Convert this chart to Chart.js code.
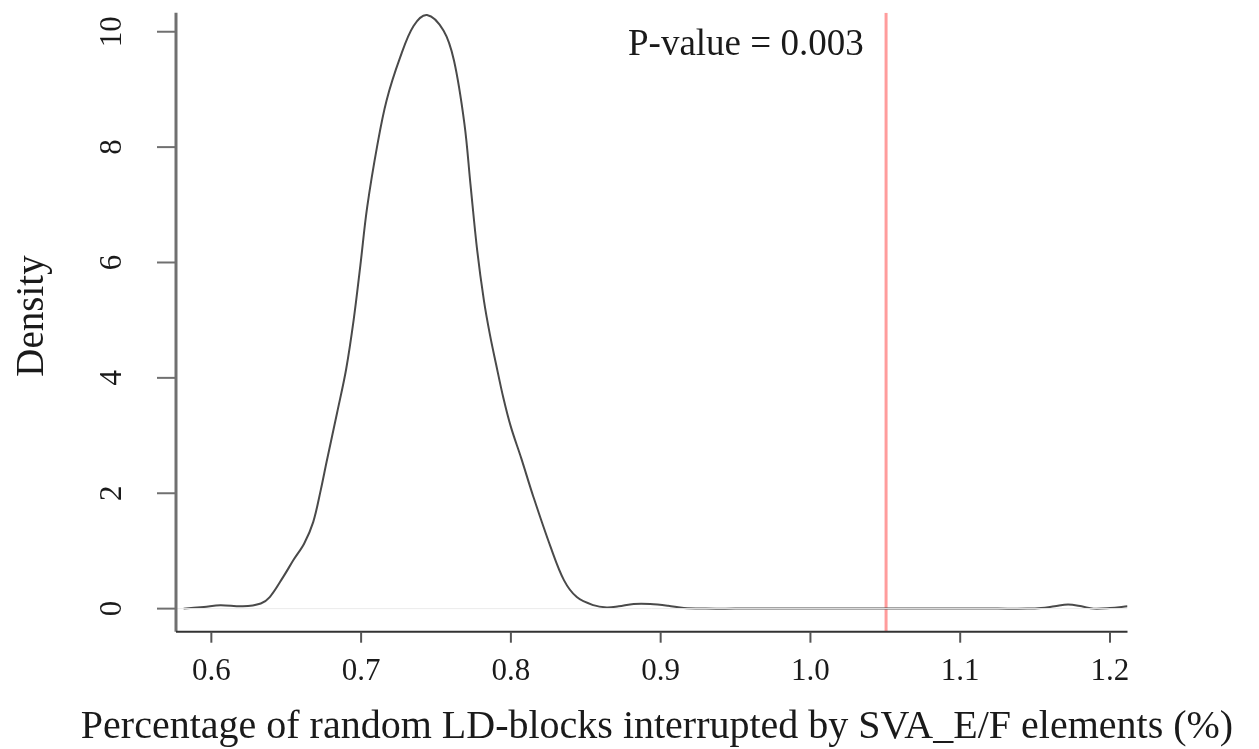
<!DOCTYPE html>
<html>
<head>
<meta charset="utf-8">
<script src="https://cdn.jsdelivr.net/npm/chart.js@4/dist/chart.umd.min.js"></script>
<style>
  body { margin: 0; background: #fff; }
  #wrap { width: 1259px; height: 749px; }
</style>
</head>
<body>
<div id="wrap"><canvas id="myChart"></canvas></div>
<script>
// density curve
const xValues = [0.5815, 0.595, 0.606, 0.621, 0.633, 0.639, 0.648, 0.655, 0.662, 0.668,
  0.673, 0.677, 0.684, 0.690, 0.695, 0.6995, 0.704, 0.711, 0.717, 0.726,
  0.735, 0.744, 0.755, 0.762, 0.769, 0.773, 0.7775, 0.782, 0.786, 0.790,
  0.795, 0.800, 0.807, 0.815, 0.8265, 0.8355, 0.844, 0.855, 0.864, 0.872,
  0.882, 0.893, 0.905, 0.9155, 0.93, 0.95, 0.98, 1.01, 1.04, 1.07,
  1.10, 1.125, 1.145, 1.154, 1.163, 1.172, 1.181, 1.189, 1.200, 1.2117];
const density = [0.00, 0.03, 0.06, 0.04, 0.09, 0.20, 0.55, 0.85, 1.13, 1.50,
  2.05, 2.55, 3.40, 4.15, 5.00, 5.95, 6.95, 8.06, 8.81, 9.55,
  10.10, 10.29, 10.02, 9.50, 8.40, 7.36, 6.21, 5.34, 4.75, 4.25,
  3.65, 3.15, 2.60, 1.94, 1.07, 0.49, 0.20, 0.06, 0.02, 0.04,
  0.08, 0.08, 0.05, 0.01, 0.00, 0.00, 0.00, 0.00, 0.00, 0.00,
  0.00, 0.00, 0.00, 0.01, 0.04, 0.07, 0.04, 0.00, 0.01, 0.04];

const xTicks = [0.6, 0.7, 0.8, 0.9, 1.0, 1.1, 1.2];
const yTicks = [0, 2, 4, 6, 8, 10];
const observedValue = 1.0505;
const pValueLabel = 'P-value = 0.003';
const xTitle = 'Percentage of random LD-blocks interrupted by SVA_E/F elements (%)';
const yTitle = 'Density';

const xMin = 0.5764, xMax = 1.2117;
const yMin = -0.40, yMax = 10.33;
const serif = '"Liberation Serif", "DejaVu Serif", serif';

const axesPlugin = {
  id: 'rAxes',
  afterDraw(chart) {
    const ctx = chart.ctx;
    const xs = chart.scales.x, ys = chart.scales.y;
    const area = chart.chartArea;
    ctx.save();

    // y axis line + ticks
    ctx.strokeStyle = '#707070';
    ctx.lineWidth = 3;
    ctx.beginPath();
    ctx.moveTo(area.left, area.top);
    ctx.lineTo(area.left, area.bottom);
    ctx.stroke();
    ctx.lineWidth = 2;
    yTicks.forEach(v => {
      const py = ys.getPixelForValue(v);
      ctx.beginPath();
      ctx.moveTo(area.left - 19, py);
      ctx.lineTo(area.left, py);
      ctx.stroke();
    });

    // x axis line + ticks
    ctx.strokeStyle = '#333';
    ctx.lineWidth = 2;
    ctx.beginPath();
    ctx.moveTo(area.left, area.bottom);
    ctx.lineTo(area.right, area.bottom);
    ctx.stroke();
    ctx.strokeStyle = '#555';
    xTicks.forEach(v => {
      const px = xs.getPixelForValue(v);
      ctx.beginPath();
      ctx.moveTo(px, area.bottom);
      ctx.lineTo(px, area.bottom + 11);
      ctx.stroke();
    });

    ctx.fillStyle = '#1a1a1a';
    ctx.font = '31px ' + serif;
    ctx.textAlign = 'center';
    ctx.textBaseline = 'middle';
    xTicks.forEach(v => {
      ctx.fillText(v.toFixed(1), xs.getPixelForValue(v), 672);
    });
    yTicks.forEach(v => {
      ctx.save();
      ctx.translate(113, ys.getPixelForValue(v));
      ctx.rotate(-Math.PI / 2);
      ctx.fillText(String(v), 0, 0);
      ctx.restore();
    });

    // titles
    ctx.font = '40px ' + serif;
    ctx.textBaseline = 'alphabetic';
    ctx.fillText(xTitle, 657, 738);
    ctx.save();
    ctx.translate(43, 316);
    ctx.rotate(-Math.PI / 2);
    ctx.font = '39px ' + serif;
    ctx.fillText(yTitle, 0, 0);
    ctx.restore();

    ctx.font = '37px ' + serif;
    ctx.textAlign = 'left';
    ctx.fillText(pValueLabel, 628, 55);
    ctx.restore();
  }
};

new Chart(document.getElementById('myChart'), {
  type: 'scatter',
  data: {
    datasets: [
      {
        data: [{x: xMin, y: 0}, {x: xMax, y: 0}],
        showLine: true,
        borderColor: '#ebebeb',
        borderWidth: 1,
        pointRadius: 0
      },
      {
        data: xValues.map((x, i) => ({x: x, y: density[i]})),
        showLine: true,
        borderColor: '#4a4a4a',
        borderWidth: 2,
        pointRadius: 0,
        tension: 0.35
      },
      {
        data: [{x: observedValue, y: yMin}, {x: observedValue, y: yMax}],
        showLine: true,
        borderColor: 'rgba(255, 90, 90, 0.6)',
        borderWidth: 3,
        pointRadius: 0
      }
    ]
  },
  options: {
    responsive: true,
    maintainAspectRatio: false,
    animation: false,
    layout: { padding: { left: 176, right: 131.5, top: 12.7, bottom: 117.3 } },
    plugins: { legend: { display: false }, tooltip: { enabled: false } },
    scales: {
      x: { type: 'linear', min: xMin, max: xMax, display: false },
      y: { type: 'linear', min: yMin, max: yMax, display: false }
    }
  },
  plugins: [axesPlugin]
});
</script>
</body>
</html>
